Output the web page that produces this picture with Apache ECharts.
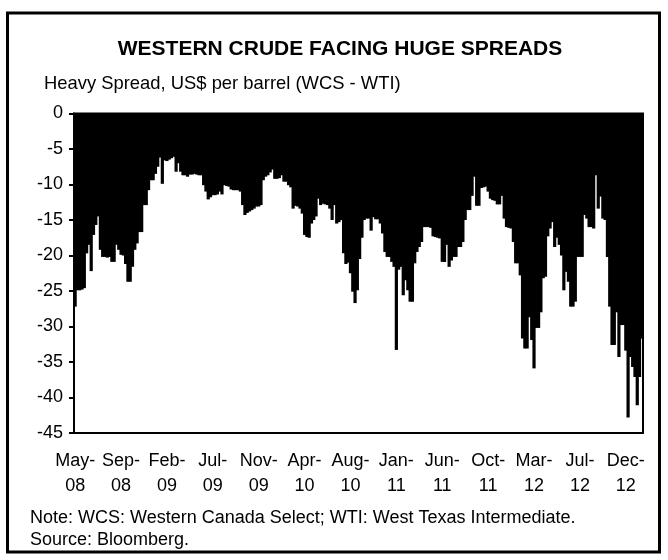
<!DOCTYPE html>
<html>
<head>
<meta charset="utf-8">
<script src="https://cdn.jsdelivr.net/npm/echarts@6/dist/echarts.min.js"></script>
<style>
  html, body { margin: 0; padding: 0; background: #fff; }
  #chart { width: 668px; height: 560px; }
</style>
</head>
<body>
<div id="chart"></div>
<script>
// weekly WCS - WTI spread, May 2008 .. Dec 2012 (US$ per barrel)
const spread = [
  -27.2, -24.9, -24.9, -24.8, -24.6, -19.7, -18.5, -22.2, -17.1, -15.7,
  -14.5, -19.2, -20.2, -20.2, -20.3, -20.2, -20.9, -20.9, -18.5, -19.2,
  -19.9, -20.0, -21.2, -23.7, -23.7, -21.6, -19.2, -18.3, -16.7, -16.7,
  -12.9, -12.9, -10.8, -9.4, -9.4, -8.5, -7.5, -6.2, -9.9, -6.6,
  -6.7, -6.5, -6.3, -6.1, -8.2, -7.0, -8.2, -8.7, -8.7, -8.9,
  -8.6, -8.6, -8.5, -8.6, -8.7, -8.7, -10.1, -11.0, -12.1, -11.8,
  -11.5, -11.5, -11.4, -11.0, -11.4, -10.1, -10.2, -10.3, -10.7, -10.8,
  -10.8, -10.8, -11.0, -12.9, -14.3, -14.0, -13.8, -13.6, -13.4, -13.1,
  -13.1, -12.9, -9.4, -8.9, -8.7, -8.3, -7.9, -9.2, -9.2, -9.1,
  -8.7, -9.6, -9.6, -10.1, -10.4, -13.4, -13.0, -13.1, -13.4, -14.1,
  -17.1, -17.4, -17.5, -15.5, -15.0, -14.5, -12.0, -12.9, -12.7, -12.8,
  -12.9, -13.4, -15.0, -12.9, -15.5, -15.3, -15.0, -19.7, -21.2, -21.0,
  -22.5, -25.1, -26.7, -24.9, -20.5, -17.5, -15.0, -14.8, -14.8, -16.5,
  -14.6, -14.9, -14.9, -15.5, -16.9, -19.5, -20.2, -20.2, -20.9, -21.6,
  -33.3, -22.0, -21.6, -25.6, -23.5, -24.9, -26.5, -26.5, -21.1, -19.5,
  -18.8, -18.1, -16.0, -16.0, -16.0, -16.1, -17.3, -17.4, -17.5, -17.6,
  -20.9, -20.9, -18.5, -21.6, -20.7, -20.2, -20.2, -18.8, -18.8, -18.1,
  -15.0, -13.6, -13.6, -11.6, -8.9, -13.0, -13.0, -10.5, -10.4, -10.3,
  -11.0, -12.0, -12.2, -12.3, -12.8, -12.8, -11.6, -14.8, -16.0, -16.1,
  -16.2, -18.1, -21.1, -21.1, -22.8, -31.7, -33.1, -33.1, -28.7, -31.9,
  -35.9, -30.2, -30.2, -28.0, -23.2, -23.0, -17.3, -16.2, -15.3, -18.8,
  -17.5, -18.5, -20.0, -24.9, -22.3, -23.7, -27.2, -27.2, -26.5, -20.2,
  -20.2, -20.2, -14.3, -14.8, -16.0, -16.0, -16.2, -8.7, -13.4, -11.7,
  -14.8, -15.0, -20.2, -27.2, -32.6, -32.6, -28.0, -34.3, -29.8, -29.8,
  -33.4, -42.8, -34.3, -35.7, -37.1, -41.1, -37.1, -31.7
];

// one label every 20 weeks
const tickLabels = ['May-08', 'Sep-08', 'Feb-09', 'Jul-09', 'Nov-09', 'Apr-10', 'Aug-10',
  'Jan-11', 'Jun-11', 'Oct-11', 'Mar-12', 'Jul-12', 'Dec-12'];
const labelEvery = 20;

const weeks = spread.map((v, i) => i);

const font = 'Liberation Sans, Arial, sans-serif';

var myChart = echarts.init(document.getElementById('chart'));

var option = {
  animation: false,
  backgroundColor: '#fff',
  textStyle: { fontFamily: font, color: '#000' },
  grid: {
    left: 74,
    right: 25,
    top: 113.5,
    bottom: 127,
    show: true,
    borderColor: '#000',
    borderWidth: 2,
    outerBoundsMode: 'none'
  },
  xAxis: {
    type: 'category',
    data: weeks,
    axisLine: { onZero: false, lineStyle: { color: '#000', width: 2 } },
    axisTick: { show: false },
    axisLabel: {
      interval: (index) => index % labelEvery === 0,
      formatter: (value, index) => {
        const lab = tickLabels[Math.round(index / labelEvery)] || '';
        return lab.replace('-', '-\n');
      },
      color: '#000',
      fontFamily: font,
      fontSize: 18,
      lineHeight: 24.4,
      margin: 16
    },
    splitLine: { show: false }
  },
  yAxis: {
    type: 'value',
    min: -45,
    max: 0,
    interval: 5,
    axisLine: { show: true, lineStyle: { color: '#000', width: 2 } },
    axisTick: { show: true, length: 5, lineStyle: { color: '#000', width: 2 } },
    axisLabel: { color: '#000', fontFamily: font, fontSize: 18, margin: 11 },
    splitLine: { show: false }
  },
  series: [
    {
      type: 'bar',
      data: spread,
      barWidth: 3.2,
      itemStyle: { color: '#000' }
    }
  ],
  graphic: [
    {
      type: 'rect',
      shape: { x: 7.5, y: 13, width: 652, height: 539 },
      style: { fill: 'none', stroke: '#000', lineWidth: 3 },
      silent: true
    },
    {
      type: 'text',
      style: {
        x: 340, y: 49, text: 'WESTERN CRUDE FACING HUGE SPREADS',
        font: 'bold 21px ' + font, fill: '#000',
        textAlign: 'center', textVerticalAlign: 'middle'
      }
    },
    {
      type: 'text',
      style: {
        x: 44, y: 84, text: 'Heavy Spread, US$ per barrel (WCS - WTI)',
        font: '18.4px ' + font, fill: '#000',
        textAlign: 'left', textVerticalAlign: 'middle'
      }
    },
    {
      type: 'text',
      style: {
        x: 30, y: 518, text: 'Note: WCS: Western Canada Select; WTI: West Texas Intermediate.',
        font: '18px ' + font, fill: '#000',
        textAlign: 'left', textVerticalAlign: 'middle'
      }
    },
    {
      type: 'text',
      style: {
        x: 30, y: 540, text: 'Source: Bloomberg.',
        font: '18px ' + font, fill: '#000',
        textAlign: 'left', textVerticalAlign: 'middle'
      }
    }
  ]
};

option && myChart.setOption(option);
</script>
</body>
</html>
